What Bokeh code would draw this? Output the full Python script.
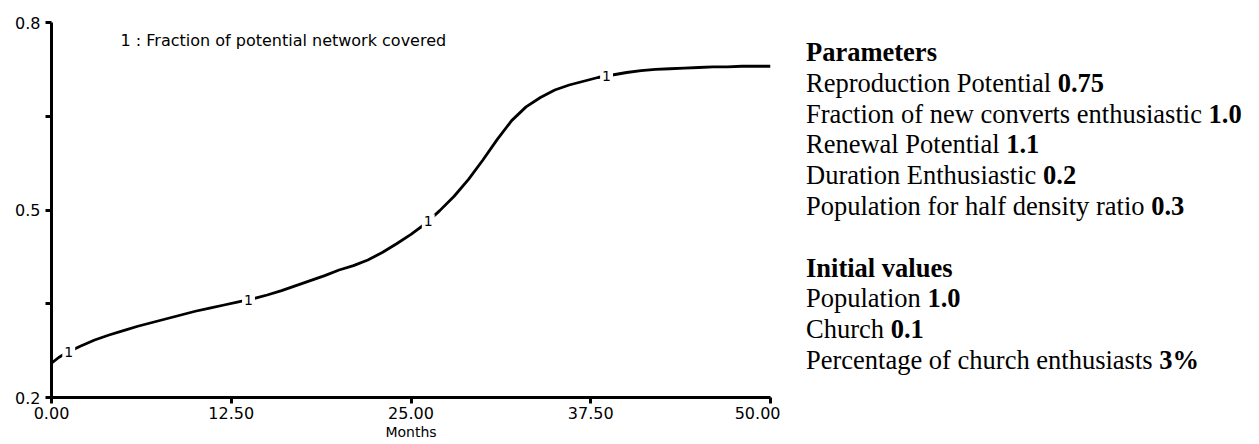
import numpy as np
from bokeh.plotting import figure
from bokeh.models import Range1d, FixedTicker, Label, Div
from bokeh.layouts import row
from bokeh.core.properties import value
from bokeh.embed import file_html
from bokeh.resources import INLINE

# ---- data ----
months = [0, 0.5, 1, 2, 3, 4, 5, 6, 7, 8, 9, 10, 11, 12, 13, 14, 15, 16, 17, 18, 19,
          20, 21, 22, 23, 24, 25, 26, 27, 28, 29, 30, 31, 32, 33, 34, 35, 36, 37, 38,
          39, 40, 41, 42, 43, 44, 45, 46, 47, 48, 49, 50]
fraction = [0.255, 0.264, 0.271, 0.282, 0.292, 0.300, 0.307, 0.314, 0.320, 0.326, 0.332,
            0.338, 0.343, 0.348, 0.353, 0.358, 0.364, 0.371, 0.379, 0.387, 0.395,
            0.404, 0.411, 0.420, 0.432, 0.446, 0.461, 0.478, 0.499, 0.522, 0.549,
            0.580, 0.613, 0.643, 0.665, 0.680, 0.692, 0.700, 0.706, 0.712, 0.716,
            0.720, 0.723, 0.725, 0.726, 0.727, 0.728, 0.729, 0.729, 0.730, 0.730, 0.730]
series_marker = "1"
marker_months = [1.2, 13.7, 26.2, 38.6]
series_title = "1 : Fraction of potential network covered"
x_axis_title = "Months"
x_ticks = [0, 12.5, 25, 37.5, 50]
x_tick_labels = ["0.00", "12.50", "25.00", "37.50", "50.00"]
y_ticks = [0.2, 0.35, 0.5, 0.65, 0.8]
y_tick_labels = ["0.2", "", "0.5", "", "0.8"]

param_names = ["Reproduction Potential", "Fraction of new converts enthusiastic",
               "Renewal Potential", "Duration Enthusiastic", "Population for half density ratio"]
param_values = ["0.75", "1.0", "1.1", "0.2", "0.3"]
init_names = ["Population", "Church", "Percentage of church enthusiasts"]
init_values = ["1.0", "0.1", "3%"]

# ---- figure ----
p = figure(width=780, height=444, output_backend="svg", toolbar_location=None,
           x_range=Range1d(0, 50), y_range=Range1d(0.2, 0.8),
           min_border_left=51, min_border_right=10, min_border_top=22, min_border_bottom=47)
p.outline_line_color = None
p.grid.visible = False
p.background_fill_color = "white"
p.border_fill_color = "white"

p.line(months, fraction, line_color="black", line_width=2.8)

marker_y = np.interp(marker_months, months, fraction)
p.text(x=marker_months, y=list(marker_y), text=[series_marker] * len(marker_months),
       text_align="center", text_baseline="middle", text_font=value("DejaVu Sans"),
       text_font_size="14px", text_color="black",
       background_fill_color="white", padding=2)

p.add_layout(Label(x=4.8, y=0.771, text=series_title, text_baseline="middle",
                   text_font="DejaVu Sans", text_font_size="16px", text_color="black"))

for ax in (p.xaxis[0], p.yaxis[0]):
    ax.axis_line_width = 3
    ax.axis_line_color = "black"
    ax.major_tick_line_width = 3
    ax.major_tick_line_color = "black"
    ax.major_tick_out = 6
    ax.major_tick_in = 0
    ax.minor_tick_out = 0
    ax.minor_tick_in = 0
    ax.major_label_text_font = "DejaVu Sans"
    ax.major_label_text_font_size = "16px"
    ax.major_label_text_color = "black"

p.xaxis.ticker = FixedTicker(ticks=x_ticks)
p.xaxis.major_label_overrides = dict(zip(x_ticks, x_tick_labels))
p.xaxis.major_label_standoff = 3
p.xaxis.axis_label = x_axis_title
p.xaxis.axis_label_text_font = "DejaVu Sans"
p.xaxis.axis_label_text_font_style = "normal"
p.xaxis.axis_label_text_font_size = "14px"
p.xaxis.axis_label_standoff = 2
p.xaxis.axis_label_text_color = "black"

p.yaxis.ticker = FixedTicker(ticks=y_ticks)
p.yaxis.major_label_overrides = dict(zip(y_ticks, y_tick_labels))
p.yaxis.major_label_standoff = 5

# ---- parameter panel ----
lines = ["<b>Parameters</b>"]
lines += [f"{n} <b>{v}</b>" for n, v in zip(param_names, param_values)]
lines += ["&nbsp;", "<b>Initial values</b>"]
lines += [f"{n} <b>{v}</b>" for n, v in zip(init_names, init_values)]
html = "<div style=\"font-family:'Liberation Serif','Times New Roman',serif;font-size:26.5px;" \
       "line-height:30.8px;color:black;white-space:nowrap;\">" + "<br>".join(lines) + "</div>"
div = Div(text=html, width=450, height=400, margin=(37, 0, 0, 26))

layout = row(p, div)
open("out.html", "w").write(file_html(layout, INLINE))
